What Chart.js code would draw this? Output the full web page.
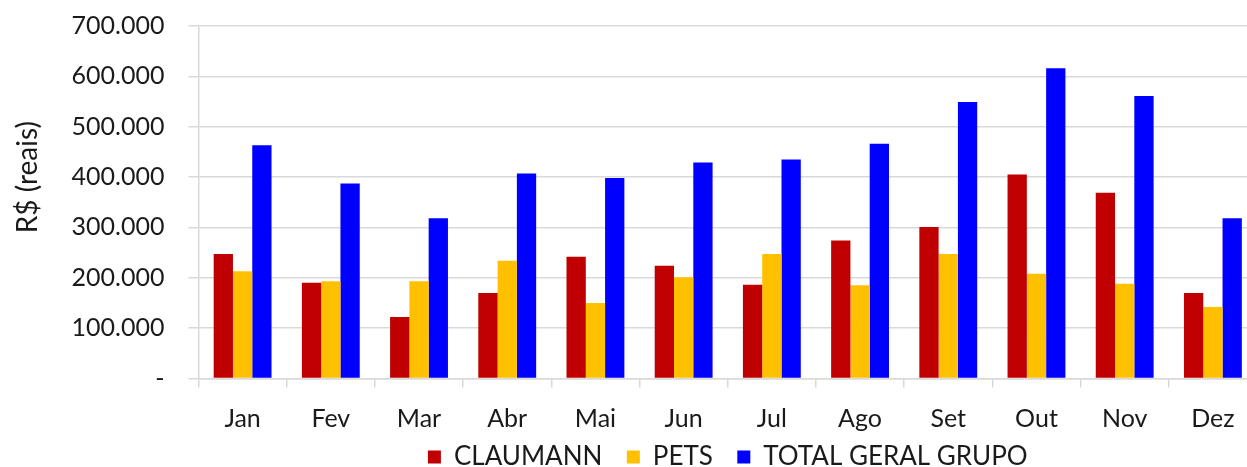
<!DOCTYPE html>
<html lang="pt">
<head>
  <meta charset="UTF-8">
  <title>Faturamento mensal</title>
  <style>
    *{
      margin: 0;
      padding: 0;
    }
    body{
      width: 1247px;
      height: 467px;
      overflow: hidden;
      background: white;
    }
    .chartBox{
      width: 1262px;
      height: 467px;
    }
  </style>
</head>
<body>
  <div class="chartBox">
    <canvas id="myChart"></canvas>
  </div>
  <script src="https://cdn.jsdelivr.net/npm/chart.js"></script>
  <script>
    const meses = ['Jan', 'Fev', 'Mar', 'Abr', 'Mai', 'Jun', 'Jul', 'Ago', 'Set', 'Out', 'Nov', 'Dez'];
    const claumann = [247000, 190000, 122000, 170000, 242000, 224000, 186000, 274000, 301000, 405000, 369000, 170000];
    const pets = [213000, 193000, 193000, 234000, 150000, 201000, 247000, 185000, 247000, 208000, 188000, 142000];
    const totalGrupo = [463000, 387000, 318000, 407000, 398000, 429000, 435000, 466000, 549000, 616000, 561000, 318000];
    const yTicks = [0, 100000, 200000, 300000, 400000, 500000, 600000, 700000];

    const fonte = 'Lato, "Open Sans", sans-serif';
    const grade = '#d9d9d9';

    const data = {
      labels: meses,
      datasets: [
        { label: 'CLAUMANN', data: claumann, backgroundColor: '#c00000' },
        { label: 'PETS', data: pets, backgroundColor: '#ffc000' },
        { label: 'TOTAL GERAL GRUPO', data: totalGrupo, backgroundColor: '#0000ff' }
      ]
    };

    const config = {
      type: 'bar',
      data,
      options: {
        responsive: true,
        maintainAspectRatio: false,
        animation: false,
        datasets: {
          bar: { barPercentage: 1, categoryPercentage: 0.656 }
        },
        // small negative bottom padding so the legend sits low like the original
        layout: { padding: { top: 26, right: 5, bottom: -13, left: 11 } },
        plugins: {
          tooltip: { enabled: false },
          legend: {
            position: 'bottom',
            fullSize: false,
            labels: {
              font: { family: fonte, size: 26 },
              color: '#1a1a1a',
              boxWidth: 13,
              boxHeight: 13,
              padding: 4.5,
              // extra gap between items without making the legend taller
              generateLabels: (chart) => {
                const items = Chart.defaults.plugins.legend.labels.generateLabels(chart);
                items.forEach((it, i) => { if (i < items.length - 1) it.text += '   '; });
                return items;
              }
            }
          }
        },
        scales: {
          x: {
            // labels may hang into the legend's gap, so the plot can go lower
            afterFit: (axis) => { axis.height -= 10; },
            grid: {
              offset: true,
              drawOnChartArea: false,
              drawTicks: true,
              tickLength: 9,
              color: grade,
              lineWidth: 1.5
            },
            border: { color: grade, width: 1.5 },
            ticks: {
              font: { family: fonte, size: 25 },
              color: '#1a1a1a',
              padding: 16
            }
          },
          y: {
            min: 0,
            max: 700000,
            afterBuildTicks: (axis) => { axis.ticks = yTicks.map(v => ({ value: v })); },
            // tick padding would otherwise push the plot down
            afterFit: (axis) => { axis.paddingTop = 0; axis.paddingBottom = 0; },
            grid: {
              color: grade,
              lineWidth: 1.5,
              drawTicks: true,
              tickLength: 10
            },
            border: { color: grade, width: 1.5 },
            ticks: {
              font: { family: fonte, size: 25 },
              color: '#1a1a1a',
              padding: 24,
              callback: (v) => v === 0 ? '-' : v.toLocaleString('pt-BR')
            },
            title: {
              display: true,
              // leading spaces lift the title a bit, as in the original
              text: '       R$ (reais)',
              font: { family: fonte, size: 28 },
              color: '#1a1a1a',
              padding: { top: 0, bottom: 3 }
            }
          }
        }
      }
    };

    const myChart = new Chart(document.getElementById('myChart'), config);
  </script>
</body>
</html>
